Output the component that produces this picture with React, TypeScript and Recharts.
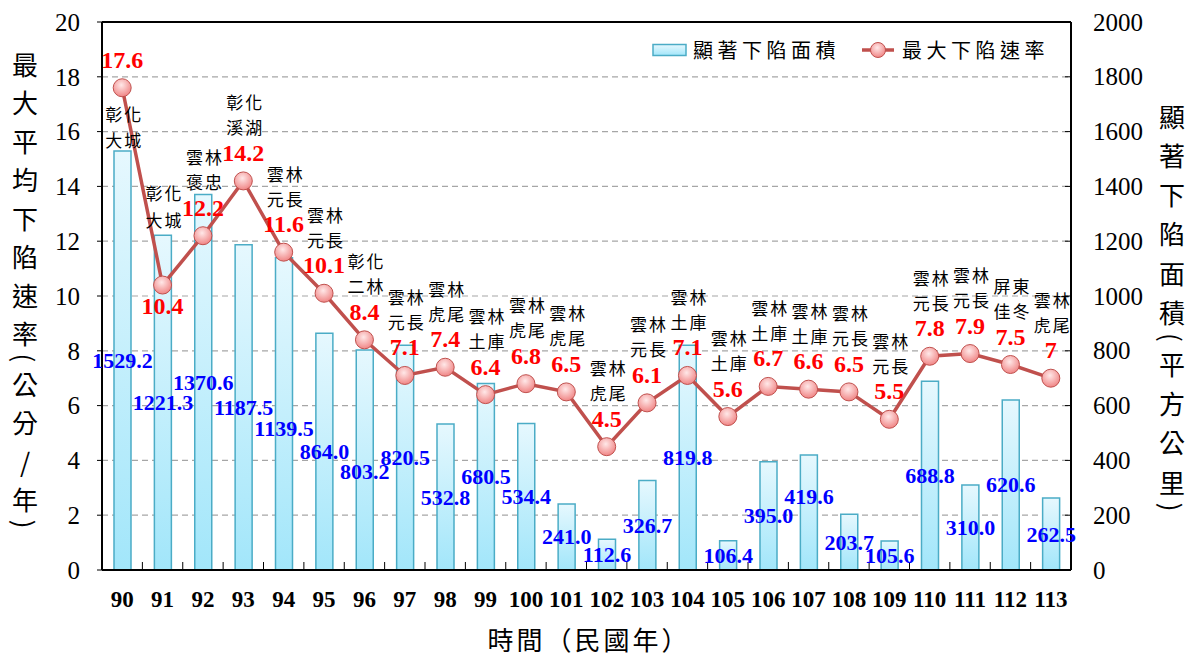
import {
  ComposedChart, Bar, Line, XAxis, YAxis, CartesianGrid,
  LabelList, ReferenceLine,
} from 'recharts';

// --- data ---
const years = ['90', '91', '92', '93', '94', '95', '96', '97', '98', '99', '100', '101',
  '102', '103', '104', '105', '106', '107', '108', '109', '110', '111', '112', '113'];

// 顯著下陷面積 (平方公里)
const areaValues = [1529.2, 1221.3, 1370.6, 1187.5, 1139.5, 864.0, 803.2, 820.5, 532.8, 680.5, 534.4, 241.0,
  112.6, 326.7, 819.8, 106.4, 395.0, 419.6, 203.7, 105.6, 688.8, 310.0, 620.6, 262.5];

// 最大下陷速率 (公分/年)
const rateValues = [17.6, 10.4, 12.2, 14.2, 11.6, 10.1, 8.4, 7.1, 7.4, 6.4, 6.8, 6.5,
  4.5, 6.1, 7.1, 5.6, 6.7, 6.6, 6.5, 5.5, 7.8, 7.9, 7.5, 7];

const placeNames = [
  ['彰化', '大城'], ['彰化', '大城'], ['雲林', '褒忠'], ['彰化', '溪湖'], ['雲林', '元長'], ['雲林', '元長'],
  ['彰化', '二林'], ['雲林', '元長'], ['雲林', '虎尾'], ['雲林', '土庫'], ['雲林', '虎尾'], ['雲林', '虎尾'],
  ['雲林', '虎尾'], ['雲林', '元長'], ['雲林', '土庫'], ['雲林', '土庫'], ['雲林', '土庫'], ['雲林', '土庫'],
  ['雲林', '元長'], ['雲林', '元長'], ['雲林', '元長'], ['雲林', '元長'], ['屏東', '佳冬'], ['雲林', '虎尾'],
];

const rateTicks = [0, 2, 4, 6, 8, 10, 12, 14, 16, 18, 20];
const areaTicks = [0, 200, 400, 600, 800, 1000, 1200, 1400, 1600, 1800, 2000];

const data = years.map((year, i) => ({
  year, area: areaValues[i], rate: rateValues[i], place: placeNames[i],
}));

// --- layout ---
const W = 1195;
const H = 658;
const PLOT_LEFT = 102;
const PLOT_RIGHT = 1071;
const PLOT_TOP = 22;
const PLOT_BOTTOM = 570;
const HALF_BAND = (PLOT_RIGHT - PLOT_LEFT) / years.length / 2;

const SERIF = '"Liberation Serif", "Times New Roman", serif';
const CJK = '"Noto Sans CJK TC", "Noto Sans CJK SC", sans-serif';
const LINE_COLOR = '#c0504d';
const BAR_STROKE = '#4bacc6';

// a few labels were nudged by hand in the original
const labelLayout: Record<string, 'placeBelow' | 'valueBelow'> = { '90': 'placeBelow', '91': 'valueBelow' };
const areaLabelShift: Record<string, number> = { '94': 15, '96': 12, '107': -16 };

const YearTick = ({ x, payload, index }: any) => (
  <g>
    {index > 0 && (
      <line x1={x - HALF_BAND} x2={x - HALF_BAND} y1={PLOT_BOTTOM} y2={PLOT_BOTTOM - 8} stroke="#000" strokeWidth={1} />
    )}
    <text x={x} y={PLOT_BOTTOM + 29} textAnchor="middle" dominantBaseline="central"
      fontFamily={SERIF} fontWeight="bold" fontSize={23} fill="#000">
      {payload.value}
    </text>
  </g>
);

const AreaTick = ({ y, payload }: any) => (
  <g>
    <line x1={PLOT_RIGHT - 6} x2={PLOT_RIGHT} y1={y} y2={y} stroke="#000" strokeWidth={1} />
    <text x={PLOT_RIGHT + 22} y={y} textAnchor="start" dominantBaseline="central"
      fontFamily={SERIF} fontSize={25} fill="#000">
      {payload.value}
    </text>
  </g>
);

const AreaLabel = ({ x, y, width, height, value, index }: any) => (
  <text x={x + width / 2} y={y + height / 2 + (areaLabelShift[years[index]] || 0)}
    textAnchor="middle" dominantBaseline="central"
    fontFamily={SERIF} fontWeight="bold" fontSize={22} fill="#0000ff">
    {Number(value).toFixed(1)}
  </text>
);

const RateLabel = ({ x, y, index, value }: any) => {
  const year = years[index];
  const [l1, l2] = placeNames[index];
  const mode = labelLayout[year];
  const valueY = mode === 'valueBelow' ? y + 21 : y - 28;
  let placeY = [y - 79, y - 54];
  if (mode === 'placeBelow') placeY = [y + 26, y + 52];
  if (mode === 'valueBelow') placeY = [y - 93, y - 66];
  return (
    <g>
      <text x={x} y={valueY} textAnchor="middle" dominantBaseline="central"
        fontFamily={SERIF} fontWeight="bold" fontSize={24} fill="#ff0000">
        {value}
      </text>
      <text x={x + 2} y={placeY[0]} textAnchor="middle" dominantBaseline="central"
        fontFamily={CJK} fontSize={17} letterSpacing={2} fill="#000">{l1}</text>
      <text x={x + 2} y={placeY[1]} textAnchor="middle" dominantBaseline="central"
        fontFamily={CJK} fontSize={17} letterSpacing={2} fill="#000">{l2}</text>
    </g>
  );
};

const ChartLegend = () => (
  <div style={{
    position: 'absolute', left: 652, top: 38, display: 'flex', alignItems: 'center',
    fontFamily: CJK, fontSize: 20, lineHeight: '24px', color: '#000', letterSpacing: 4.5,
  }}>
    <svg width={36} height={14} style={{ marginRight: 5 }}>
      <rect x={1} y={1.5} width={33} height={11} fill="url(#barGrad)" stroke={BAR_STROKE} strokeWidth={1.5} />
    </svg>
    <span>顯著下陷面積</span>
    <svg width={34} height={20} style={{ marginLeft: 22, marginRight: 6 }}>
      <line x1={0} x2={32} y1={10} y2={10} stroke={LINE_COLOR} strokeWidth={3.5} />
      <circle cx={16} cy={10} r={7.5} fill="url(#dotGrad)" stroke={LINE_COLOR} strokeWidth={1} />
    </svg>
    <span>最大下陷速率</span>
  </div>
);

// vertical axis title, one character per row, round brackets turned
function VerticalTitle({ text, x, y0, step }: { text: string; x: number; y0: number; step: number }) {
  const isParen = (c: string) => c === '(' || c === ')';
  let y = y0;
  const chars = Array.from(text);
  return (
    <g>
      {chars.map((c, i) => {
        if (i > 0) {
          y += isParen(c) || isParen(chars[i - 1]) ? step * 0.66 : step;
        }
        return (
          <text key={i} x={x} y={y} textAnchor="middle" dominantBaseline="central"
            fontFamily={CJK} fontSize={26} fill="#000"
            transform={isParen(c) ? `rotate(90 ${x} ${y})` : undefined}>
            {c}
          </text>
        );
      })}
    </g>
  );
}

export default function App() {
  return (
    <div style={{ position: 'absolute', left: 0, top: 0, width: W, height: H, background: '#fff' }}>
      <ComposedChart width={W} height={H} data={data}
        margin={{ top: PLOT_TOP, right: 0, bottom: 0, left: 0 }} barCategoryGap={0}>
        <defs>
          <linearGradient id="barGrad" x1="0" y1="0" x2="0" y2="1">
            <stop offset="0%" stopColor="#e6f8fe" />
            <stop offset="100%" stopColor="#a2e6fa" />
          </linearGradient>
          <radialGradient id="dotGrad" cx="45%" cy="35%" r="65%">
            <stop offset="0%" stopColor="#ffe8e8" />
            <stop offset="100%" stopColor="#f08585" />
          </radialGradient>
        </defs>
        <CartesianGrid yAxisId="rate" vertical={false} strokeDasharray="6 4" stroke="#a6a6a6" strokeWidth={1.2} />
        <XAxis dataKey="year" height={H - PLOT_BOTTOM} interval={0} tickLine={false}
          axisLine={{ stroke: '#000', strokeWidth: 2 }} tick={<YearTick />} />
        <YAxis yAxisId="rate" domain={[0, 20]} ticks={rateTicks} width={PLOT_LEFT}
          axisLine={{ stroke: '#000', strokeWidth: 2 }} tickLine={{ stroke: '#000' }} tickSize={5} tickMargin={17}
          tick={{ fill: '#000', fontSize: 25, fontFamily: SERIF }} />
        <YAxis yAxisId="area" orientation="right" domain={[0, 2000]} ticks={areaTicks} width={W - PLOT_RIGHT}
          axisLine={{ stroke: '#000', strokeWidth: 2 }} tickLine={false} tickSize={0} tick={<AreaTick />} />
        <ReferenceLine yAxisId="rate" y={20} stroke="#000" strokeWidth={2} />
        <Bar yAxisId="area" dataKey="area" name="顯著下陷面積" barSize={17} fill="url(#barGrad)"
          stroke={BAR_STROKE} strokeWidth={1.5} isAnimationActive={false}>
          <LabelList dataKey="area" content={<AreaLabel />} />
        </Bar>
        <Line yAxisId="rate" dataKey="rate" name="最大下陷速率" stroke={LINE_COLOR} strokeWidth={3.5}
          dot={{ r: 9, fill: 'url(#dotGrad)', stroke: LINE_COLOR, strokeWidth: 1 }} activeDot={false}
          isAnimationActive={false}>
          <LabelList dataKey="rate" content={<RateLabel />} />
        </Line>
      </ComposedChart>
      <ChartLegend />
      <svg width={W} height={H} style={{ position: 'absolute', left: 0, top: 0, pointerEvents: 'none' }}>
        <VerticalTitle text="最大平均下陷速率(公分/年)" x={25} y0={63} step={38.5} />
        <VerticalTitle text="顯著下陷面積(平方公里)" x={1172} y0={115} step={39.3} />
        <text x={589} y={638} textAnchor="middle" dominantBaseline="central"
          fontFamily={CJK} fontSize={26} letterSpacing={3} fill="#000">時間（民國年）</text>
      </svg>
    </div>
  );
}
